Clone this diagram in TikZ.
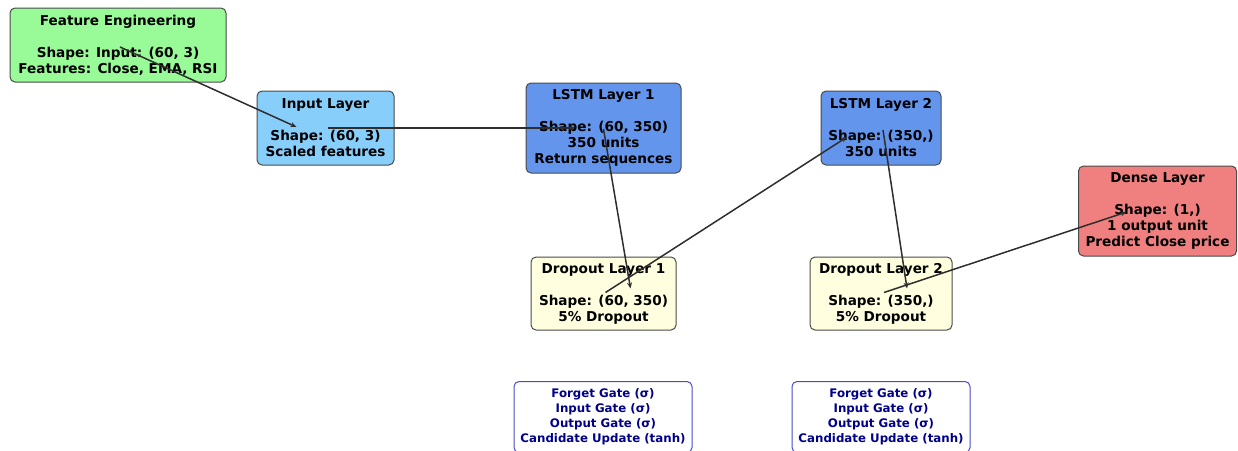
\documentclass[tikz,border=0pt]{standalone}
\usepackage{fontspec}
\setmainfont{DejaVu Sans}
\usetikzlibrary{arrows.meta,calc}
\definecolor{cgreen}{HTML}{98FB98}
\definecolor{cskyb}{HTML}{87CEFA}
\definecolor{ccorn}{HTML}{6495ED}
\definecolor{cyell}{HTML}{FFFFE0}
\definecolor{ccoral}{HTML}{F08080}
\definecolor{cedge}{HTML}{4A4A4A}
\definecolor{cgateedge}{HTML}{4B4BC8}
\definecolor{cgatetext}{HTML}{00008B}
\definecolor{carrow}{HTML}{2E2E2E}
\tikzset{
  layerbox/.style={draw=cedge, line width=1pt, rounded corners=5pt, align=center,
    inner sep=0pt, font=\fontsize{13.6}{16}\selectfont\bfseries},
  gatebox/.style={draw=cgateedge, fill=white, line width=1pt, rounded corners=5pt, align=center,
    inner sep=0pt, text=cgatetext, font=\fontsize{11.8}{15}\selectfont\bfseries,
    minimum width=178pt, minimum height=71pt},
  flow/.style={draw=carrow, line width=1.5pt, -{Stealth[length=6pt,width=5pt]}}
}
\begin{document}
\begin{tikzpicture}[x=1pt,y=-1pt]
\useasboundingbox (0,0) rectangle (1238,450);
\clip (0,0) rectangle (1238,450);
\node[layerbox, fill=cgreen, minimum width=216pt, minimum height=74pt] (fe) at (118,45)
  {Feature Engineering\\[16pt]Shape: Input: (60, 3)\\Features: Close, EMA, RSI};
\node[layerbox, fill=cskyb, minimum width=137pt, minimum height=74pt] (inp) at (325.5,128)
  {Input Layer\\[16pt]Shape: (60, 3)\\Scaled features};
\node[layerbox, fill=ccorn, minimum width=155pt, minimum height=90pt] (l1) at (603.5,128)
  {LSTM Layer 1\\[16pt]Shape: (60, 350)\\350 units\\Return sequences};
\node[layerbox, fill=ccorn, minimum width=120pt, minimum height=74pt] (l2) at (881,128)
  {LSTM Layer 2\\[16pt]Shape: (350,)\\350 units};
\node[layerbox, fill=cyell, minimum width=145pt, minimum height=73pt] (d1) at (603.5,293.5)
  {Dropout Layer 1\\[16pt]Shape: (60, 350)\\5\% Dropout};
\node[layerbox, fill=cyell, minimum width=142pt, minimum height=73pt] (d2) at (881,293.5)
  {Dropout Layer 2\\[16pt]Shape: (350,)\\5\% Dropout};
\node[layerbox, fill=ccoral, minimum width=158pt, minimum height=90pt] (dense) at (1157.5,211)
  {Dense Layer\\[16pt]Shape: (1,)\\1 output unit\\Predict Close price};
\node[gatebox] (g1) at (603,417)
  {Forget Gate (σ)\\Input Gate (σ)\\Output Gate (σ)\\Candidate Update (tanh)};
\node[gatebox] (g2) at (881,417)
  {Forget Gate (σ)\\Input Gate (σ)\\Output Gate (σ)\\Candidate Update (tanh)};
\coordinate (tinp) at ($(inp.center)+(-29,-1)$);
\coordinate (tl1) at ($(l1.center)+(-28,0)$);
\coordinate (td1) at ($(d1.center)+(27,-5)$);
\coordinate (tl2) at ($(l2.center)+(-34,9)$);
\coordinate (td2) at ($(d2.center)+(26,-5)$);
\coordinate (tdense) at ($(dense.center)+(-31,1)$);
\draw[flow] ($(fe.center)+(2,2)$) -- (tinp);
\draw[flow] ($(inp.center)+(2,0)$) -- (tl1);
\draw[flow] ($(l1.center)+(0,1)$) -- (td1);
\draw[flow] ($(d1.center)+(2,-1)$) -- (tl2);
\draw[flow] ($(l2.center)+(2,2)$) -- (td2);
\draw[flow] ($(d2.center)+(3,-1)$) -- (tdense);
\end{tikzpicture}
\end{document}
